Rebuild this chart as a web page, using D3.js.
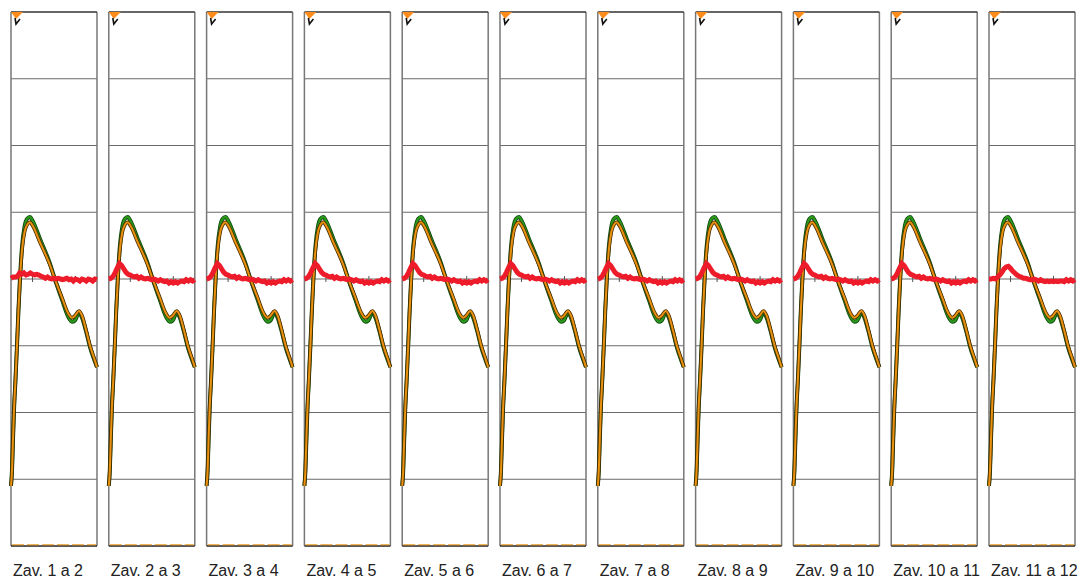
<!DOCTYPE html>
<html>
<head>
<meta charset="utf-8">
<script src="https://cdn.jsdelivr.net/npm/d3@7"></script>
<style>
  body { margin: 0; background: #fff; }
  text { font-family: "Liberation Sans", Arial, sans-serif; }
</style>
</head>
<body>
<div id="chart"></div>
<script>
const width = 1086, height = 580;

// panel labels
const labels = ["Zav. 1 a 2", "Zav. 2 a 3", "Zav. 3 a 4", "Zav. 4 a 5", "Zav. 5 a 6", "Zav. 6 a 7",
                "Zav. 7 a 8", "Zav. 8 a 9", "Zav. 9 a 10", "Zav. 10 a 11", "Zav. 11 a 12"];

// y grid in divisions
const gridTicks = [-4, -3, -2, -1, 0, 1, 2, 3, 4];
const axisTicks = [25, 50, 75];

// main curves (x = % of panel, y = divisions)
const curveX = [0, 1.2, 2.3, 3.5, 5.2, 7, 8.7, 10.5, 12.8, 15.7, 18.6, 22, 25.6, 33.7, 45.3, 51,
                59.3, 66.3, 70.9, 74.4, 79, 82.6, 87.2, 91.9, 96.5, 100];
const orangeY = [-3.1, -2.86, -2.41, -1.96, -1.51, -0.99, -0.46, 0, 0.43, 0.7, 0.81, 0.85, 0.79, 0.55, 0.21, 0,
                 -0.28, -0.51, -0.58, -0.55, -0.48, -0.55, -0.76, -1.0, -1.18, -1.32];
const greenY = [-3.1, -2.86, -2.41, -1.96, -1.51, -0.99, -0.46, 0.02, 0.48, 0.78, 0.9, 0.93, 0.86, 0.6, 0.23, 0,
                -0.31, -0.56, -0.64, -0.62, -0.5, -0.58, -0.78, -1.02, -1.2, -1.32];

// red trace
const redX = [0, 2.5, 5, 7.5, 10, 12.5, 15, 17.5, 20, 22.5, 25, 27.5, 30, 32.5, 35, 37.5, 40, 42.5, 45, 47.5,
              50, 52.5, 55, 57.5, 60, 62.5, 65, 67.5, 70, 72.5, 75, 77.5, 80, 82.5, 85, 87.5, 90, 92.5, 95, 97.5, 100];
const redFirst = [0.01, 0.03, 0.03, 0.04, 0.09, 0.07, 0.09, 0.06, 0.07, 0.09, 0.07, 0.06, 0.07, 0.06, 0.04, 0.03,
                  0.01, 0.03, 0.01, 0, 0.01, 0, 0.01, 0, -0.01, 0, 0.01, -0.01, 0, -0.03, 0, -0.01, -0.03, 0, -0.01,
                  -0.03, 0, -0.01, -0.03, 0, -0.01];
const redMid = [0, 0.01, 0.04, 0.1, 0.17, 0.23, 0.2, 0.15, 0.1, 0.07, 0.06, 0.04, 0.03, 0.04, 0.01, 0.03,
                0.01, 0, 0.01, 0, -0.01, 0, -0.01, -0.03, -0.01, -0.03, -0.04, -0.03, -0.06, -0.04, -0.06, -0.04,
                -0.06, -0.04, -0.03, -0.04, -0.01, -0.03, -0.01, -0.03, -0.01];
const redLast = [0, 0, 0.01, 0, 0.03, 0.06, 0.1, 0.15, 0.18, 0.19, 0.16, 0.12, 0.09, 0.06, 0.04, 0.03,
                 0.01, 0.01, 0, -0.01, -0.01, 0, -0.01, -0.03, -0.01, -0.03, -0.04, -0.03, -0.04, -0.03, -0.04, -0.03,
                 -0.04, -0.03, -0.03, -0.04, -0.01, -0.03, -0.01, -0.03, -0.01];

const svg = d3.select("#chart").append("svg")
    .attr("width", width)
    .attr("height", height)
    .style("background", "#fff");

const band = d3.scaleBand()
    .domain(labels)
    .range([11, 1075])
    .paddingInner(0.1207)
    .paddingOuter(0);

const y = d3.scaleLinear().domain([-4, 4]).range([546, 12]);

labels.forEach((lab, i) => {
    const x0 = band(lab), bw = band.bandwidth();
    const x = d3.scaleLinear().domain([0, 100]).range([x0, x0 + bw]);
    const g = svg.append("g");

    // grid lines
    g.selectAll(".grid")
        .data(gridTicks.slice(1, -1))
        .enter().append("line")
        .attr("x1", x0).attr("x2", x0 + bw)
        .attr("y1", d => y(d)).attr("y2", d => y(d))
        .attr("stroke", "#6a6a6a").attr("stroke-width", 1.2);

    // ticks on the zero line
    g.selectAll(".tick")
        .data(axisTicks)
        .enter().append("line")
        .attr("x1", d => x(d)).attr("x2", d => x(d))
        .attr("y1", y(0) - 3).attr("y2", y(0) + 3)
        .attr("stroke", "#555").attr("stroke-width", 1);

    // frame
    g.append("line").attr("x1", x0).attr("x2", x0).attr("y1", y(4)).attr("y2", y(-4))
        .attr("stroke", "#777").attr("stroke-width", 1.5);
    g.append("line").attr("x1", x0 + bw).attr("x2", x0 + bw).attr("y1", y(4)).attr("y2", y(-4))
        .attr("stroke", "#777").attr("stroke-width", 1.5);
    g.append("line").attr("x1", x0).attr("x2", x0 + bw).attr("y1", y(4)).attr("y2", y(4))
        .attr("stroke", "#333").attr("stroke-width", 1.5);
    g.append("line").attr("x1", x0).attr("x2", x0 + bw).attr("y1", y(-4)).attr("y2", y(-4))
        .attr("stroke", "#222").attr("stroke-width", 1.5);
    // orange trace sitting on the bottom
    g.append("line").attr("x1", x0 + 1).attr("x2", x0 + bw - 1).attr("y1", y(-4) - 1.2).attr("y2", y(-4) - 1.2)
        .attr("stroke", "#e8920f").attr("stroke-width", 1).attr("stroke-dasharray", "12,3");

    const line = d3.line().x(d => x(d[0])).y(d => y(d[1])).curve(d3.curveMonotoneX);
    const greenPts = curveX.map((v, k) => [v, greenY[k]]);
    const orangePts = curveX.map((v, k) => [v, orangeY[k]]);

    g.append("path").attr("d", line(greenPts)).attr("fill", "none")
        .attr("stroke", "#0d4a0d").attr("stroke-width", 4);
    g.append("path").attr("d", line(greenPts)).attr("fill", "none")
        .attr("stroke", "#2b9a1c").attr("stroke-width", 2.2);
    g.append("path").attr("d", line(orangePts)).attr("fill", "none")
        .attr("stroke", "#4a2c00").attr("stroke-width", 3.6);
    g.append("path").attr("d", line(orangePts)).attr("fill", "none")
        .attr("stroke", "#e8920f").attr("stroke-width", 2);

    const redY = i === 0 ? redFirst : (i === labels.length - 1 ? redLast : redMid);
    const redLine = d3.line().x(d => x(d[0])).y(d => y(d[1]));
    g.append("path").attr("d", redLine(redX.map((v, k) => [v, redY[k]]))).attr("fill", "none")
        .attr("stroke", "#ee1c2a").attr("stroke-width", 5);

    // trigger marker
    g.append("path")
        .attr("d", `M${x0},${y(4)} L${x0 + 12},${y(4)} L${x0 + 5},${y(4) + 7} Z`)
        .attr("fill", "#ff8c1a");
    g.append("path")
        .attr("d", `M${x0 + 4},${y(4) + 6} L${x0 + 5},${y(4) + 12} L${x0 + 9},${y(4) + 7}`)
        .attr("fill", "none").attr("stroke", "#111").attr("stroke-width", 1.6);

    // label
    svg.append("text")
        .attr("x", x0 + 2)
        .attr("y", 576)
        .attr("font-size", 16)
        .attr("fill", "#222")
        .text(lab);
});
</script>
</body>
</html>
